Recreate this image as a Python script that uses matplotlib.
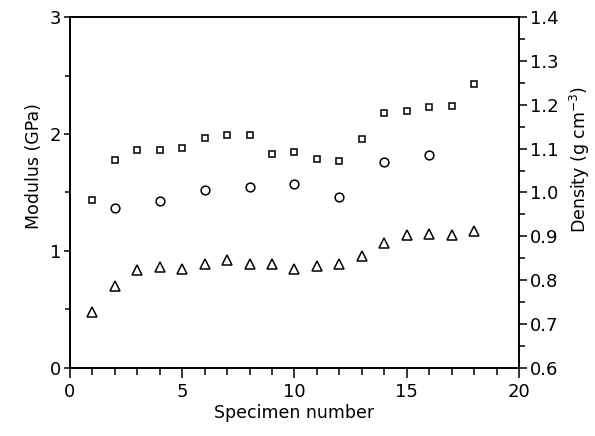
"""
Modulus und Dichte über Probennummer
"""

import matplotlib
matplotlib.use('Agg')
import matplotlib.pyplot as plt
from matplotlib.ticker import MultipleLocator

plt.rcParams['font.family'] = ['DejaVu Sans']

# *************************************************************
# Daten
# *************************************************************
specimenSq = [1, 2, 3, 4, 5, 6, 7, 8, 9, 10, 11, 12, 13, 14, 15, 16, 17, 18]
modulusSq = [1.44, 1.78, 1.86, 1.86, 1.88, 1.97, 1.99, 1.99, 1.83, 1.85,
             1.79, 1.77, 1.96, 2.18, 2.20, 2.23, 2.24, 2.43]

specimenTri = [1, 2, 3, 4, 5, 6, 7, 8, 9, 10, 11, 12, 13, 14, 15, 16, 17, 18]
modulusTri = [0.48, 0.70, 0.84, 0.86, 0.85, 0.89, 0.92, 0.89, 0.89, 0.85,
              0.87, 0.89, 0.96, 1.07, 1.14, 1.145, 1.14, 1.17]

specimenCirc = [2, 4, 6, 8, 10, 12, 14, 16]
density = [0.964, 0.980, 1.005, 1.012, 1.019, 0.990, 1.070, 1.086]

xTicks = [0, 5, 10, 15, 20]
leftTicks = [0, 1, 2, 3]
rightTicks = [0.6, 0.7, 0.8, 0.9, 1.0, 1.1, 1.2, 1.3, 1.4]

# *************************************************************
# Plot
# *************************************************************
fig = plt.figure(figsize=(5.95, 4.36), dpi=100)
ax = fig.add_axes([0.1176, 0.156, 0.7547, 0.805])
ax2 = ax.twinx()

mk = dict(linestyle='none', markerfacecolor='none', markeredgecolor='black',
          markeredgewidth=1.1)
ax.plot(specimenSq, modulusSq, marker='s', markersize=5.0, **mk)
ax.plot(specimenTri, modulusTri, marker='^', markersize=6.5, **mk)
ax2.plot(specimenCirc, density, marker='o', markersize=6.3, **mk)

ax.set_xlim(0, 20)
ax.set_ylim(0, 3)
ax2.set_ylim(0.6, 1.4)

ax.set_xticks(xTicks)
ax.set_xticklabels([str(t) for t in xTicks])
ax.xaxis.set_minor_locator(MultipleLocator(1))
ax.set_yticks(leftTicks)
ax.yaxis.set_minor_locator(MultipleLocator(0.5))
ax2.set_yticks(rightTicks)
ax2.set_yticklabels(['%.1f' % t for t in rightTicks])
ax2.yaxis.set_minor_locator(MultipleLocator(0.05))

for a in (ax, ax2):
    for s in a.spines.values():
        s.set_linewidth(1.2)

ax.tick_params(axis='x', which='major', direction='out', length=7, width=1.1,
               labelsize=13, pad=4)
ax.tick_params(axis='x', which='minor', direction='out', length=5, width=1.1)
ax.tick_params(axis='y', which='major', direction='out', length=4.5, width=1.1,
               labelsize=13, pad=2)
ax.tick_params(axis='y', which='minor', direction='out', length=3.5, width=1.1)
ax2.tick_params(axis='y', which='major', direction='out', length=6, width=1.1,
                labelsize=13, pad=2)
ax2.tick_params(axis='y', which='minor', direction='out', length=4.5, width=1.1)

ax.set_xlabel('Specimen number', fontsize=12.5, labelpad=2)
ax.set_ylabel('Modulus (GPa)', fontsize=12.5)
ax2.set_ylabel('Density (g cm$^{-3}$)', fontsize=12.5)
ax.yaxis.set_label_coords(-0.06, 0.575)
ax2.yaxis.set_label_coords(1.109, 0.595)

fig.savefig('out.png', dpi=100)
